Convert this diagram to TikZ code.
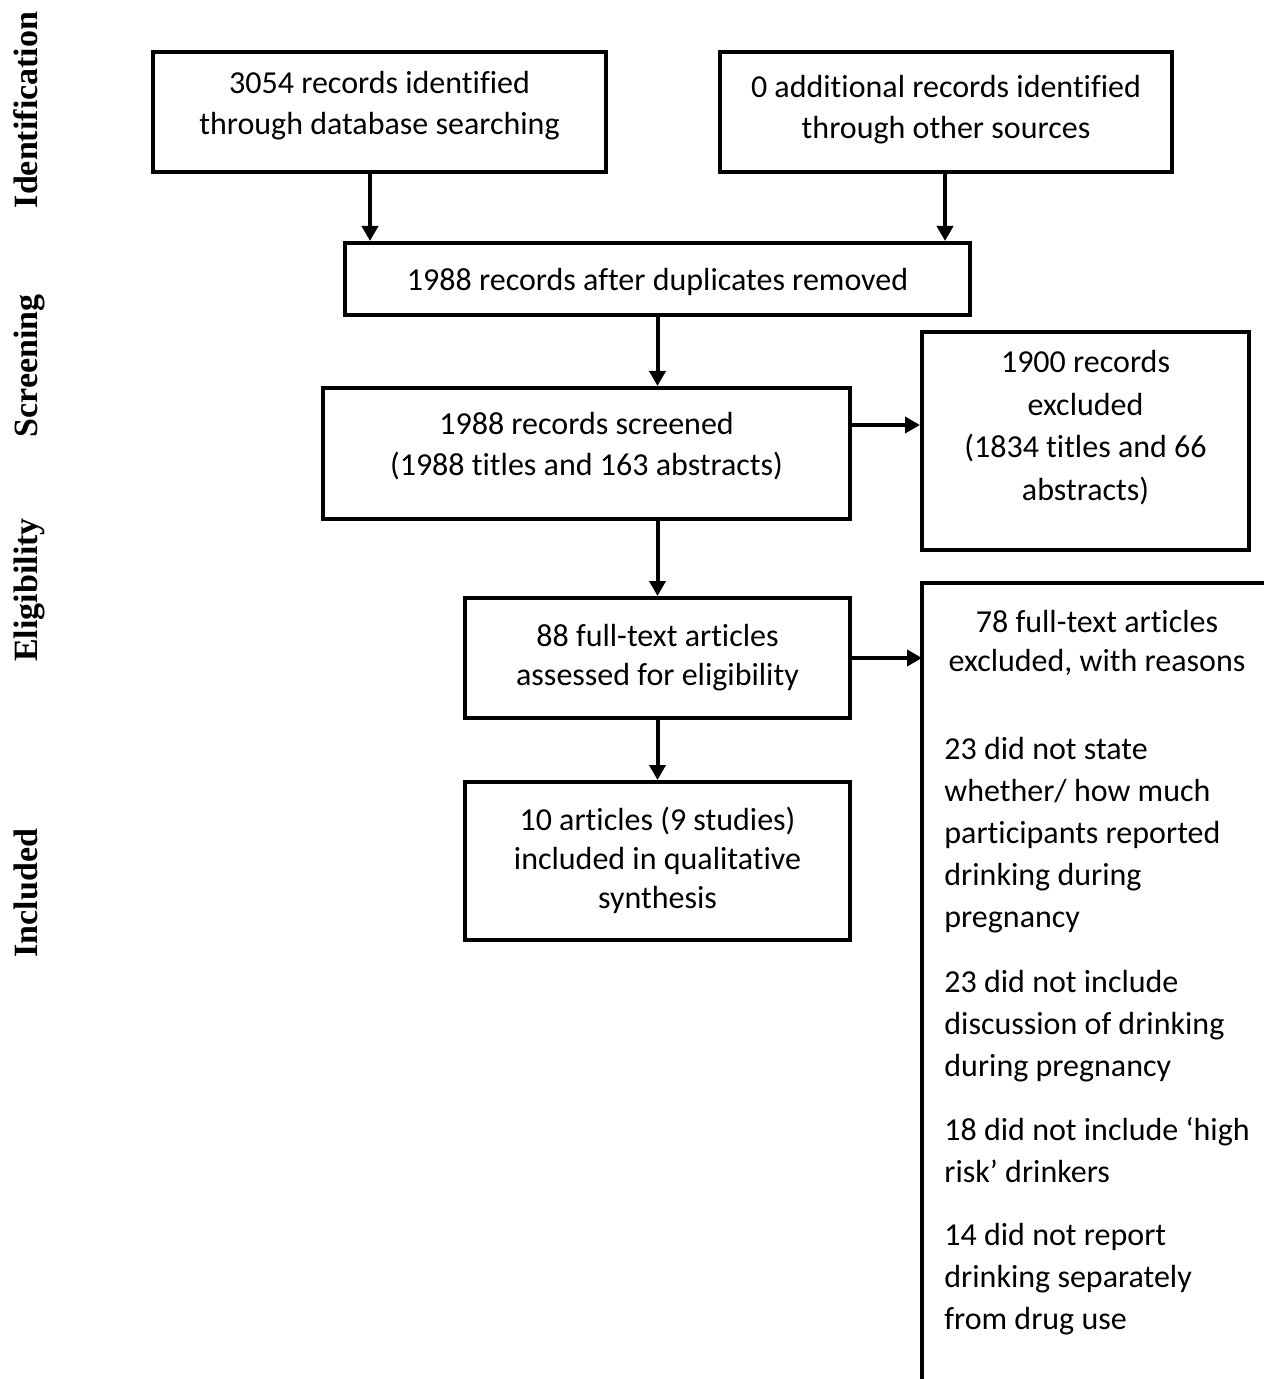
\documentclass[tikz,border=0pt]{standalone}
\usepackage{fontspec}
\setmainfont{Carlito}[Ligatures=NoCommon]
\newfontfamily\sidefont{Liberation Serif}
\usetikzlibrary{arrows.meta}
\begin{document}
\begin{tikzpicture}[x=0.5pt,y=-0.5pt,
  box/.style={draw, line width=2pt, align=center, inner sep=0pt,
    font=\fontsize{16}{20.5}\selectfont},
  arr/.style={line width=2pt, -{Triangle[length=7.5pt,width=8pt]}},
  frame/.style={line width=2pt},
  phase/.style={rotate=90, anchor=base, inner sep=0pt,
    font=\sidefont\bfseries\fontsize{17}{20}\selectfont},
  reason/.style={anchor=base west, align=left, inner sep=0pt,
    font=\fontsize{16}{21}\selectfont},
  rhead/.style={anchor=base, align=center, inner sep=0pt,
    font=\fontsize{16}{19.5}\selectfont}
]
\useasboundingbox (0,0) rectangle (1263,1379);

% phase labels
\node[phase] (pid) at (37,110) {Identification};
\node[phase] (psc) at (37,366) {Screening};
\node[phase] (pel) at (37,590) {Eligibility};
\node[phase] (pin) at (37,893) {Included};

% flow boxes
\node[box, minimum width=226.5pt, minimum height=60pt, text depth=9pt] (a) at (379.5,112)
  {3054 records identified\\through database searching};
\node[box, minimum width=226pt, minimum height=60pt, text depth=5pt] (b) at (946,112)
  {0 additional records identified\\through other sources};
\node[box, minimum width=312.5pt, minimum height=36pt, text depth=0pt] (c) at (657.5,279)
  {1988 records after duplicates removed};
\node[box, minimum width=263.5pt, minimum height=65.5pt, text depth=10pt] (d) at (586.5,453.5)
  {1988 records screened\\(1988 titles and 163 abstracts)};
\node[box, minimum width=163.5pt, minimum height=109pt, text depth=15.5pt,
  font=\fontsize{16}{21.3}\selectfont] (e) at (1085.5,441)
  {1900 records\\excluded\\(1834 titles and 66\\abstracts)};
\node[box, minimum width=192.5pt, minimum height=60pt, text depth=3pt,
  font=\fontsize{16}{19.5}\selectfont] (f) at (657.5,658)
  {88 full-text articles\\assessed for eligibility};
\node[box, minimum width=192.5pt, minimum height=79pt, text depth=3.5pt,
  font=\fontsize{16}{19.5}\selectfont] (h) at (657.5,861)
  {10 articles (9 studies)\\included in qualitative\\synthesis};

% open box of full-text exclusions
\coordinate (gtl) at (922,583);
\draw[frame] (1266,583) -- (gtl) -- (922,1382);
\node[rhead] (g) at (1097,671) {78 full-text articles\\excluded, with reasons};
\node[reason] (r1) at (944,927)
  {23 did not state\\whether/ how much\\participants reported\\drinking during\\pregnancy};
\node[reason] (r2) at (944,1076)
  {23 did not include\\discussion of drinking\\during pregnancy};
\node[reason] (r3) at (944,1182)
  {18 did not include ‘high\\risk’ drinkers};
\node[reason] (r4) at (944,1329)
  {14 did not report\\drinking separately\\from drug use};

% connectors
\draw[arr] ([xshift=-4.75pt]a.south) -- ([xshift=-4.75pt]a.south |- c.north);
\draw[arr] ([xshift=-0.5pt]b.south) -- ([xshift=-0.5pt]b.south |- c.north);
\draw[arr] (c.south) -- (c.south |- d.north);
\draw[arr] ([yshift=14.25pt]d.east) -- ([yshift=14.25pt]d.east -| e.west);
\draw[arr] (d.south -| f.north) -- (f.north);
\draw[arr] (f.east) -- (f.east -| gtl);
\draw[arr] (f.south) -- (h.north);
\end{tikzpicture}
\end{document}
